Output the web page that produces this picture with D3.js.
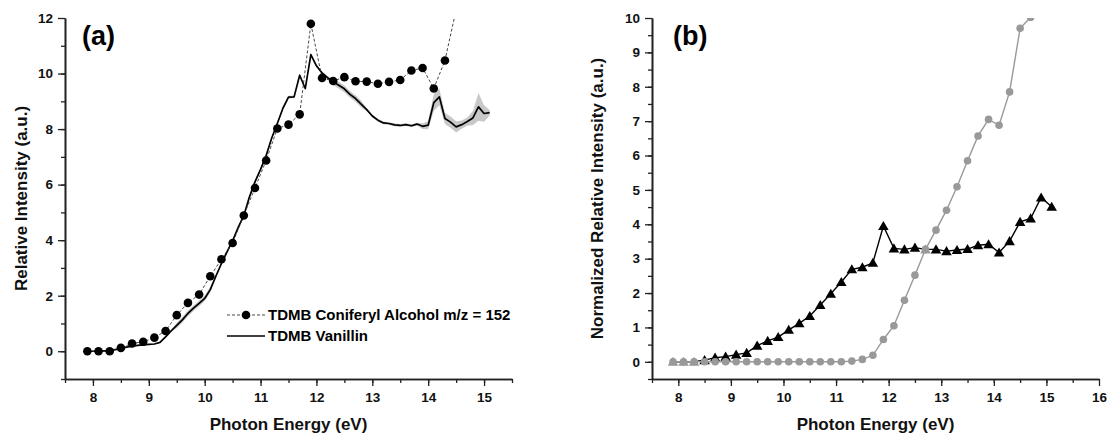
<!DOCTYPE html>
<meta charset="utf-8">

<style>
  body {
    margin: 0px;
    background: #fff;
  }

  svg {
    display: block;
    font-family: Arial, "Liberation Sans", sans-serif;
  }

  .axis path, .axis line {
    stroke: #222;
  }

  .axis path {
    stroke-width: 1.6px;
  }

  .axis line {
    stroke-width: 1.3px;
  }

  .axis text {
    font-size: 13.5px;
    font-weight: bold;
    fill: #111;
  }

  .title {
    font-size: 17px;
    font-weight: bold;
    fill: #111;
  }

  .panel-label {
    font-size: 27px;
    font-weight: bold;
  }

  .legend text {
    font-size: 15px;
    font-weight: bold;
  }
</style>

<script src="https://cdn.jsdelivr.net/npm/d3@7"></script>

<body>
  <svg id="chart"></svg>
</body>

<script>
// panel (a): TDMB coniferyl alcohol, m/z = 152 (dots, 0.2 eV steps)
const coniferylEnergy = [7.9, 8.1, 8.3, 8.5, 8.7, 8.9, 9.1, 9.3, 9.5, 9.7,
  9.9, 10.1, 10.3, 10.5, 10.7, 10.9, 11.1, 11.3, 11.5, 11.7,
  11.9, 12.1, 12.3, 12.5, 12.7, 12.9, 13.1, 13.3, 13.5, 13.7,
  13.9, 14.1, 14.3, 14.5];
const coniferylValue = [0, 0, 0, 0.12, 0.28, 0.34, 0.49, 0.73, 1.30, 1.74,
  2.04, 2.70, 3.31, 3.90, 4.89, 5.88, 6.87, 8.02, 8.16, 8.53,
  11.79, 9.84, 9.73, 9.87, 9.72, 9.71, 9.63, 9.70, 9.77, 10.11,
  10.20, 9.46, 10.47, 12.3];

// panel (a): TDMB vanillin (solid line with grey error band, 0.1 eV steps)
const vanillinEnergy = [7.9, 8.0, 8.1, 8.2, 8.3, 8.4, 8.5, 8.6, 8.7, 8.8,
  8.9, 9.0, 9.1, 9.2, 9.3, 9.4, 9.5, 9.6, 9.7, 9.8,
  9.9, 10.0, 10.1, 10.2, 10.3, 10.4, 10.5, 10.6, 10.7, 10.8,
  10.9, 11.0, 11.1, 11.2, 11.3, 11.4, 11.5, 11.6, 11.7, 11.8,
  11.9, 12.0, 12.1, 12.2, 12.3, 12.4, 12.5, 12.6, 12.7, 12.8,
  12.9, 13.0, 13.1, 13.2, 13.3, 13.4, 13.5, 13.6, 13.7, 13.8,
  13.9, 14.0, 14.1, 14.2, 14.3, 14.4, 14.5, 14.6, 14.7, 14.8,
  14.9, 15.0, 15.1];
const vanillinValue = [0, 0, 0, 0.01, 0.02, 0.06, 0.10, 0.15, 0.18, 0.21,
  0.23, 0.25, 0.26, 0.32, 0.52, 0.73, 0.93, 1.13, 1.36, 1.55,
  1.72, 1.90, 2.22, 2.70, 3.16, 3.58, 3.98, 4.46, 4.88, 5.55,
  6.10, 6.55, 7.05, 7.68, 8.20, 8.75, 9.15, 9.16, 9.94, 9.46,
  10.68, 10.28, 10.02, 9.85, 9.70, 9.58, 9.45, 9.25, 9.10, 8.90,
  8.70, 8.47, 8.32, 8.22, 8.20, 8.15, 8.13, 8.16, 8.12, 8.18,
  8.10, 8.14, 8.95, 9.16, 8.38, 8.25, 8.08, 8.16, 8.27, 8.40,
  8.80, 8.56, 8.59];
const vanillinError = [0.02, 0.02, 0.02, 0.02, 0.02, 0.02, 0.02, 0.02, 0.02, 0.02,
  0.02, 0.02, 0.02, 0.02, 0.02, 0.02, 0.10, 0.10, 0.10, 0.10,
  0.10, 0.10, 0.10, 0.05, 0.05, 0.05, 0.05, 0.05, 0.05, 0.05,
  0.05, 0.05, 0.05, 0.05, 0.05, 0.05, 0.05, 0.05, 0.05, 0.05,
  0.05, 0.05, 0.05, 0.05, 0.12, 0.12, 0.12, 0.12, 0.12, 0.12,
  0.05, 0.05, 0.05, 0.05, 0.05, 0.05, 0.05, 0.05, 0.05, 0.05,
  0.10, 0.15, 0.30, 0.30, 0.20, 0.20, 0.20, 0.15, 0.15, 0.25,
  0.50, 0.30, 0.10];

// panel (b): normalized series, 0.2 eV steps
const triangleEnergy = [7.9, 8.1, 8.3, 8.5, 8.7, 8.9, 9.1, 9.3, 9.5, 9.7,
  9.9, 10.1, 10.3, 10.5, 10.7, 10.9, 11.1, 11.3, 11.5, 11.7,
  11.9, 12.1, 12.3, 12.5, 12.7, 12.9, 13.1, 13.3, 13.5, 13.7,
  13.9, 14.1, 14.3, 14.5, 14.7, 14.9, 15.1];
const triangleValue = [0, 0, 0, 0.05, 0.12, 0.15, 0.21, 0.26, 0.47, 0.61,
  0.72, 0.93, 1.12, 1.33, 1.65, 1.98, 2.32, 2.69, 2.75, 2.88,
  3.95, 3.30, 3.27, 3.32, 3.27, 3.27, 3.22, 3.25, 3.28, 3.39,
  3.42, 3.18, 3.51, 4.07, 4.17, 4.78, 4.51];

const circleEnergy = [7.9, 8.1, 8.3, 8.5, 8.7, 8.9, 9.1, 9.3, 9.5, 9.7,
  9.9, 10.1, 10.3, 10.5, 10.7, 10.9, 11.1, 11.3, 11.5, 11.7,
  11.9, 12.1, 12.3, 12.5, 12.7, 12.9, 13.1, 13.3, 13.5, 13.7,
  13.9, 14.1, 14.3, 14.5, 14.7];
const circleValue = [0, 0, 0, 0, 0, 0, 0, 0, 0, 0,
  0, 0, 0, 0, 0, 0, 0, 0.02, 0.07, 0.19,
  0.65, 1.05, 1.79, 2.52, 3.27, 3.83, 4.41, 5.09, 5.85, 6.57,
  7.05, 6.88, 7.85, 9.70, 10.02];

const legendLabels = ['TDMB Coniferyl Alcohol m/z = 152', 'TDMB Vanillin'];

const width = 1107;
const height = 435;
const grey = '#999';

const svg = d3.select('#chart')
    .attr('width', width)
    .attr('height', height);

function zip(xs, ys, extra) {
  return xs.map(function(x, i) { return {x: x, y: ys[i], e: extra ? extra[i] : 0}; });
}

const coniferyl = zip(coniferylEnergy, coniferylValue);
const vanillin = zip(vanillinEnergy, vanillinValue, vanillinError);
const triangles = zip(triangleEnergy, triangleValue);
const circles = zip(circleEnergy, circleValue);


// draws the two spines with major/minor outward ticks, returns the scales
function drawPanel(opts) {
  const x = d3.scaleLinear().domain(opts.xDomain).range([opts.left, opts.right]);
  const y = d3.scaleLinear().domain(opts.yDomain).range([opts.bottom, opts.top]);

  const g = svg.append('g');

  g.append('clipPath')
      .attr('id', opts.id)
    .append('rect')
      .attr('x', opts.left)
      .attr('y', opts.top)
      .attr('width', opts.right - opts.left)
      .attr('height', opts.bottom - opts.top);

  // minor ticks first, majors drawn on top
  g.append('g')
      .attr('class', 'axis')
      .attr('transform', `translate(0,${opts.bottom})`)
      .call(d3.axisBottom(x).tickValues(opts.xMinor).tickSize(4).tickSizeOuter(0).tickFormat(''));

  g.append('g')
      .attr('class', 'axis')
      .attr('transform', `translate(${opts.left},0)`)
      .call(d3.axisLeft(y).tickValues(opts.yMinor).tickSize(4).tickSizeOuter(0).tickFormat(''));

  g.append('g')
      .attr('class', 'axis')
      .attr('transform', `translate(0,${opts.bottom})`)
      .call(d3.axisBottom(x).tickValues(opts.xMajor).tickSize(7).tickSizeOuter(0).tickPadding(6).tickFormat(d3.format('d')));

  g.append('g')
      .attr('class', 'axis')
      .attr('transform', `translate(${opts.left},0)`)
      .call(d3.axisLeft(y).tickValues(opts.yMajor).tickSize(7).tickSizeOuter(0).tickPadding(5).tickFormat(d3.format('d')));

  g.append('text')
      .attr('class', 'title')
      .attr('x', (opts.left + opts.right) / 2)
      .attr('y', 430)
      .attr('text-anchor', 'middle')
      .text('Photon Energy (eV)');

  g.append('text')
      .attr('class', 'title')
      .attr('transform', `translate(${opts.yTitleX},${(opts.top + opts.bottom) / 2}) rotate(-90)`)
      .attr('text-anchor', 'middle')
      .text(opts.yTitle);

  g.append('text')
      .attr('class', 'panel-label')
      .attr('x', opts.labelX)
      .attr('y', 45)
      .text(opts.label);

  return {x: x, y: y, g: g};
}


//// panel (a)
const a = drawPanel({
  id: 'clipA', left: 65, right: 512, top: 18, bottom: 379,
  xDomain: [7.5, 15.5], yDomain: [-1, 12],
  xMajor: d3.range(8, 16), xMinor: d3.range(7.5, 15.6, 0.5),
  yMajor: d3.range(0, 13, 2), yMinor: d3.range(-1, 12, 1),
  yTitle: 'Relative Intensity (a.u.)', yTitleX: 27,
  label: '(a)', labelX: 82
});

const plotA = a.g.append('g').attr('clip-path', 'url(#clipA)');

plotA.append('path')
    .datum(vanillin)
    .attr('fill', '#c8c8c8')
    .attr('d', d3.area()
      .x(function(d) { return a.x(d.x); })
      .y0(function(d) { return a.y(d.y - d.e); })
      .y1(function(d) { return a.y(d.y + d.e); }));

plotA.append('path')
    .datum(vanillin)
    .attr('fill', 'none')
    .attr('stroke', '#000')
    .attr('stroke-width', 1.7)
    .attr('stroke-linejoin', 'round')
    .attr('d', d3.line()
      .x(function(d) { return a.x(d.x); })
      .y(function(d) { return a.y(d.y); }));

plotA.append('path')
    .datum(coniferyl)
    .attr('fill', 'none')
    .attr('stroke', '#333')
    .attr('stroke-width', 0.9)
    .attr('stroke-dasharray', '3,2')
    .attr('d', d3.line()
      .x(function(d) { return a.x(d.x); })
      .y(function(d) { return a.y(d.y); }));

plotA.selectAll('circle')
    .data(coniferyl)
  .enter().append('circle')
    .attr('cx', function(d) { return a.x(d.x); })
    .attr('cy', function(d) { return a.y(d.y); })
    .attr('r', 4.3)
    .attr('fill', '#000');

// legend
const legend = a.g.append('g').attr('class', 'legend');

legend.append('line')
    .attr('x1', 227).attr('x2', 265)
    .attr('y1', 315).attr('y2', 315)
    .attr('stroke', '#333')
    .attr('stroke-width', 0.9)
    .attr('stroke-dasharray', '3,2');

legend.append('circle')
    .attr('cx', 246).attr('cy', 315)
    .attr('r', 4.3);

legend.append('line')
    .attr('x1', 227).attr('x2', 265)
    .attr('y1', 336).attr('y2', 336)
    .attr('stroke', '#000')
    .attr('stroke-width', 1.7);

legend.selectAll('text')
    .data(legendLabels)
  .enter().append('text')
    .attr('x', 268)
    .attr('y', function(d, i) { return 315 + i * 21; })
    .attr('dy', '0.36em')
    .text(function(d) { return d; });


//// panel (b)
const b = drawPanel({
  id: 'clipB', left: 652, right: 1099, top: 18, bottom: 379,
  xDomain: [7.5, 16], yDomain: [-0.5, 10],
  xMajor: d3.range(8, 17), xMinor: d3.range(7.5, 16, 0.5),
  yMajor: d3.range(0, 11), yMinor: d3.range(-0.5, 10, 0.5),
  yTitle: 'Normalized Relative Intensity (a.u.)', yTitleX: 603,
  label: '(b)', labelX: 673
});

const plotB = b.g.append('g').attr('clip-path', 'url(#clipB)');

const lineB = d3.line()
    .x(function(d) { return b.x(d.x); })
    .y(function(d) { return b.y(d.y); });

plotB.append('path')
    .datum(triangles)
    .attr('fill', 'none')
    .attr('stroke', '#000')
    .attr('stroke-width', 1.4)
    .attr('d', lineB);

plotB.selectAll('.tri')
    .data(triangles)
  .enter().append('path')
    .attr('class', 'tri')
    .attr('transform', function(d) { return `translate(${b.x(d.x)},${b.y(d.y) + 1})`; })
    .attr('d', d3.symbol().type(d3.symbolTriangle).size(48))
    // where the grey series sits on the same spot the marker reads grey
    .attr('fill', function(d, i) { return Math.abs(d.y - circleValue[i]) < 0.001 ? grey : '#000'; });

plotB.append('path')
    .datum(circles)
    .attr('fill', 'none')
    .attr('stroke', grey)
    .attr('stroke-width', 1.4)
    .attr('d', lineB);

plotB.selectAll('circle')
    .data(circles)
  .enter().append('circle')
    .attr('cx', function(d) { return b.x(d.x); })
    .attr('cy', function(d) { return b.y(d.y); })
    .attr('r', 3.8)
    .attr('fill', grey);

</script>
